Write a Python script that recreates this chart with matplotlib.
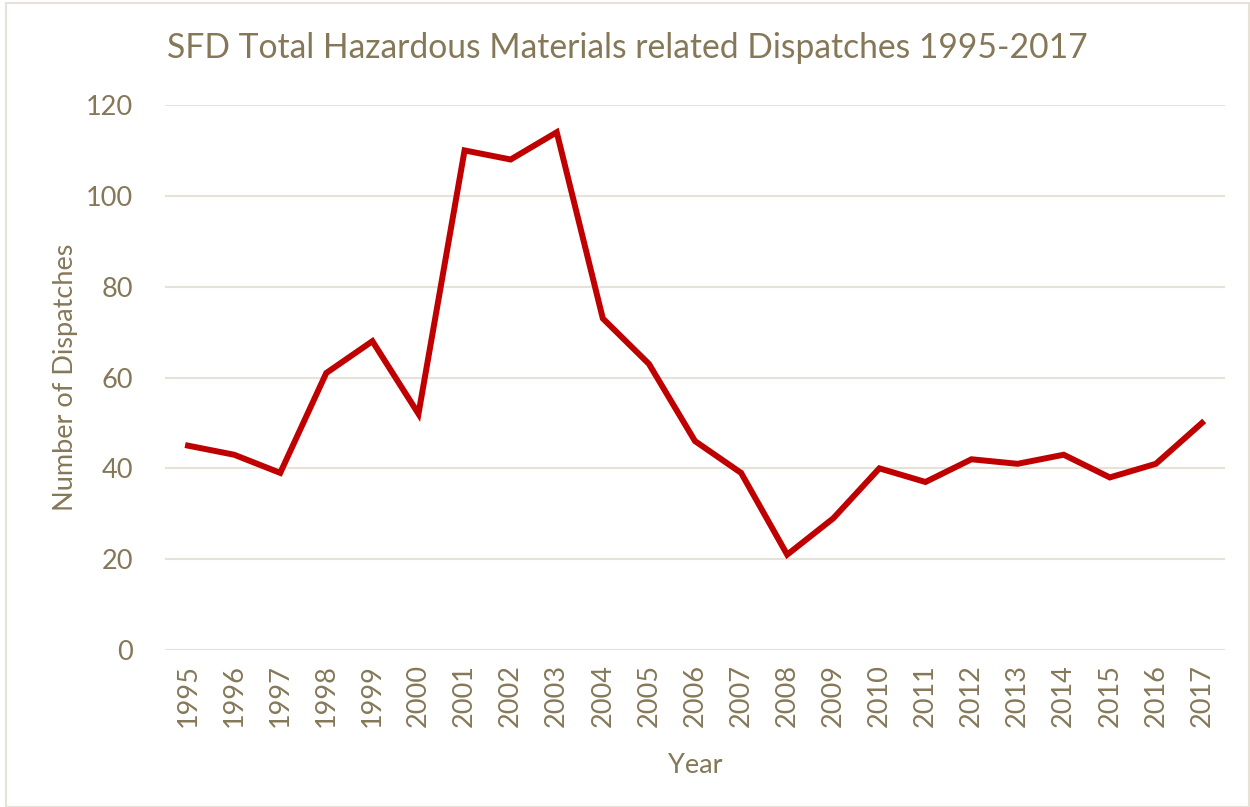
import matplotlib
matplotlib.use("Agg")
import matplotlib.pyplot as plt
from matplotlib.patches import Rectangle

years = [str(y) for y in range(1995, 2018)]
dispatches = [45, 43, 39, 61, 68, 52, 110, 108, 114, 73, 63, 46, 39,
              21, 29, 40, 37, 42, 41, 43, 38, 41, 50]
yticks = [0, 20, 40, 60, 80, 100, 120]

text_color = "#857858"
grid_color = "#e6e2d8"
line_color = "#c00000"

plt.rcParams["font.family"] = ["Lato", "DejaVu Sans"]

fig = plt.figure(figsize=(12.5, 8.07), dpi=100)
ax = fig.add_axes([0.132, 0.1945, 0.848, 0.6754])

x = list(range(len(years)))
ax.plot(x, dispatches, color=line_color, linewidth=4.3, solid_joinstyle="miter")

ax.set_xlim(-0.5, len(years) - 0.5)
ax.set_ylim(0, 120)
ax.set_yticks(yticks)
ax.set_xticks(x)
ax.set_xticklabels(years, rotation=90)
ax.tick_params(axis="both", length=0, labelsize=19.5, colors=text_color)
ax.tick_params(axis="y", pad=23)
ax.tick_params(axis="x", pad=10)
ax.grid(axis="y", color=grid_color, linewidth=1.5)
ax.set_axisbelow(True)
for s in ax.spines.values():
    s.set_visible(False)

ax.set_xlabel("Year", fontsize=19.5, color=text_color, labelpad=19)
ax.set_ylabel("Number of Dispatches", fontsize=19.5, color=text_color, labelpad=6)
fig.text(0.502, 0.94, "SFD Total Hazardous Materials related Dispatches 1995-2017",
         ha="center", va="center", fontsize=24.2, color=text_color)

fig.patches.append(Rectangle((0.005, 0.0), 0.994, 0.996, transform=fig.transFigure,
                             fill=False, edgecolor=grid_color, linewidth=1.5))

fig.savefig("out.png", dpi=100)
